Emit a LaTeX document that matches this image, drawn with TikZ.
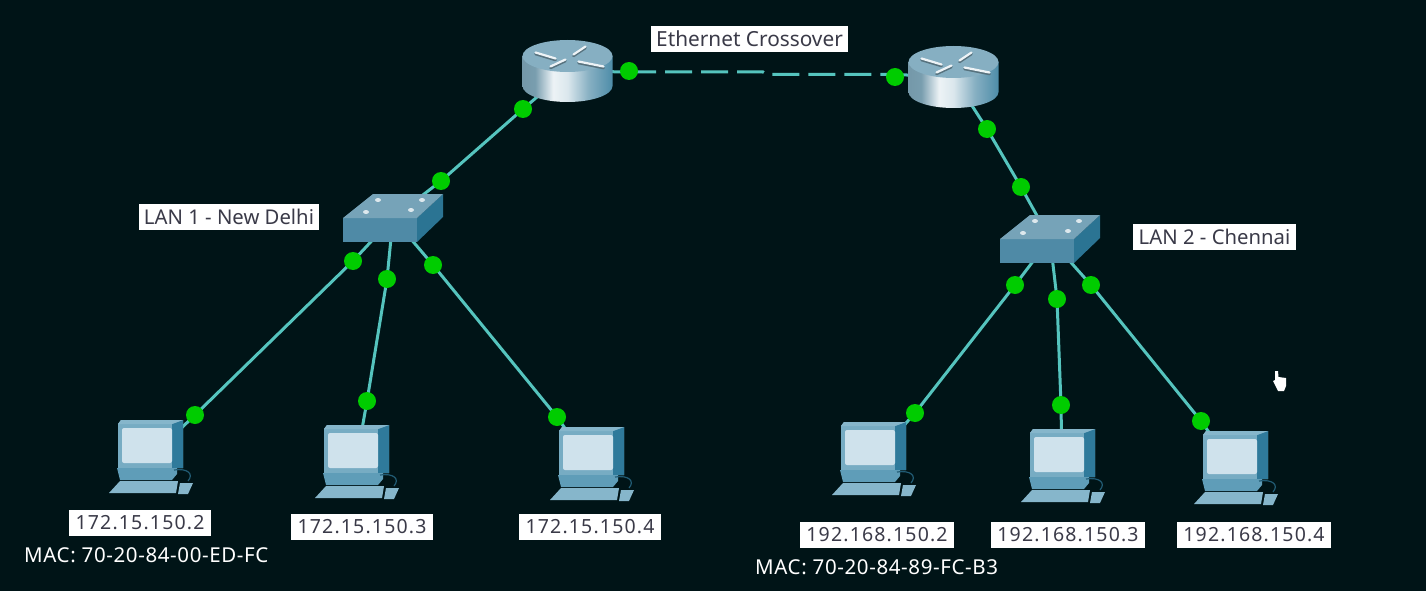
\documentclass[tikz,border=0pt]{standalone}
\usepackage{fontspec}
\setmainfont{Noto Sans}
\newfontfamily\ipfont[LetterSpace=6]{Noto Sans}
\newfontfamily\macfont[LetterSpace=3]{Noto Sans}
\definecolor{bgcol}{HTML}{001417}
\definecolor{linkcol}{HTML}{55C4BE}
\definecolor{dotcol}{HTML}{00CC00}
\definecolor{labtxt}{HTML}{3A3A48}
\definecolor{rtop}{HTML}{86AFC2}
\definecolor{pcdark}{HTML}{2F7A9B}
\definecolor{pcmid}{HTML}{5F9DB8}
\definecolor{pclight}{HTML}{86B6CB}
\definecolor{pcscreen}{HTML}{CFE2EC}
\definecolor{swtop}{HTML}{76A3B8}
\definecolor{swfront}{HTML}{4F8AA6}
\definecolor{swside}{HTML}{2B7493}
\pgfdeclarelayer{links}
\pgfdeclarelayer{art}
\pgfsetlayers{links,art,main}
\pgfdeclarehorizontalshading{routerside}{100bp}{
  color(0bp)=(rtop!70!black); color(8bp)=(rtop!80!black); color(32bp)=(rtop!90!black);
  color(42bp)=(white!85!rtop); color(50bp)=(white!70!rtop); color(62bp)=(rtop);
  color(82bp)=(pcdark); color(100bp)=(pcdark!70!black)}
\tikzset{
  link/.style={draw=linkcol,line width=3pt},
  crosslink/.style={link,dash pattern=on 27pt off 9pt},
  dot/.style={circle,fill=dotcol,minimum size=18pt,inner sep=0pt},
  device/.style={inner sep=0pt,outer sep=0pt},
  tag/.style={fill=white,draw=none,text=labtxt,inner sep=0pt,minimum height=26pt,font=\fontsize{20.8}{24}\selectfont},
  lantag/.style={tag,font=\fontsize{20.3}{24}\selectfont},
  iptag/.style={tag,font=\ipfont\fontsize{19.5}{24}\selectfont},
  mac/.style={text=white,inner sep=0pt,font=\macfont\fontsize{20.5}{23}\selectfont},
  pics/routerpic/.style={code={
    \path[shading=routerside] (-45,-15) -- (-45,15) arc[start angle=180,end angle=360,x radius=45pt,y radius=16pt] -- (45,-15) -- cycle;
    \fill[rtop] (0,-15) ellipse[x radius=45pt,y radius=16pt];
    \draw[rtop!65!black,line width=2.6pt,line cap=round]
      (-32,-17) -- (-12,-11) (-17,-3) -- (-2,-10)
      (6,-15) -- (18,-23) (11,-8) -- (36,-3);
    \draw[white!85!rtop,line width=2.2pt,line cap=round]
      (-32,-18.5) -- (-12,-12.5) (-17,-4.5) -- (-2,-11.5)
      (6,-16.5) -- (18,-24.5) (11,-9.5) -- (36,-4.5);
  }},
  pics/switchpic/.style={code={
    \fill[swfront] (-50,0) rectangle (24,24);
    \fill[swside] (24,0) -- (50,-24) -- (50,-1) -- (24,24) -- cycle;
    \fill[swtop] (-50,0) -- (-20,-24) -- (50,-24) -- (24,0) -- cycle;
    \fill[white!75!swtop] (-27,-6) circle[x radius=3pt,y radius=2pt] (-15,-18) circle[x radius=3pt,y radius=2pt]
      (18,-8) circle[x radius=3pt,y radius=2pt] (29,-18) circle[x radius=3pt,y radius=2pt];
  }},
  pics/pcpic/.style={code={
    \fill[pcmid!85!white] (-32,-34) -- (-29,-38) -- (33,-38) -- (33,10) -- (-32,10) -- cycle;
    \fill[pcdark] (22,-34) -- (33,-38) -- (33,10) -- (22,10) -- cycle;
    \fill[pclight] (-32,-34) -- (-29,-38) -- (33,-38) -- (22,-34) -- cycle;
    \fill[pcscreen,rounded corners=2pt] (-28,-30) rectangle (22,5);
    \fill[pcmid] (-33,10) -- (27,10) -- (27,16) -- (22,22) -- (-30,22) -- cycle;
    \fill[pclight] (-30,23) -- (28,23) -- (26,35) -- (-41,35) -- cycle;
    \fill[pclight] (30,25) -- (43,25) -- (38,36) -- (28,36) -- cycle;
    \draw[pcdark!70!bgcol,line width=1.2pt] (24,12) .. controls (38,10) and (44,16) .. (38,23);
  }}
}
\begin{document}
\begin{tikzpicture}[x=1pt,y=-1pt]
\useasboundingbox (0,0) rectangle (1426,591);
\begin{pgfonlayer}{links}
\fill[bgcol] (0,0) rectangle (1426,591);
\end{pgfonlayer}

% device anchors
\node[device] (r1) at (567.5,71) {};
\node[device] (r2) at (953.5,77) {};
\node[device] (s1) at (393,218) {};
\node[device] (s2) at (1050,239) {};
\node[device] (p1) at (150,458) {};
\node[device] (p2) at (356,463) {};
\node[device] (p3) at (591,465) {};
\node[device] (p4) at (873,460) {};
\node[device] (p5) at (1062,467) {};
\node[device] (p6) at (1235,469) {};

% link status dots
\node[dot] (d1) at (629,71) {};
\node[dot] (d2) at (895,77) {};
\node[dot] (d3) at (523,109) {};
\node[dot] (d4) at (441,181) {};
\node[dot] (d5) at (987,129) {};
\node[dot] (d6) at (1021,187) {};
\node[dot] (a1) at (353,261) {};
\node[dot] (a2) at (387,279) {};
\node[dot] (a3) at (433,265) {};
\node[dot] (b1) at (195,415) {};
\node[dot] (b2) at (367,401) {};
\node[dot] (b3) at (557,417) {};
\node[dot] (c1) at (1015,285) {};
\node[dot] (c2) at (1057,299) {};
\node[dot] (c3) at (1091,285) {};
\node[dot] (e1) at (915,413) {};
\node[dot] (e2) at (1061,405) {};
\node[dot] (e3) at (1201,421) {};
\coordinate (j0) at (629,72);
\coordinate (j1) at (763,72);
\coordinate (j2) at (767,74.5);
\coordinate (j3) at (895,74.5);

% connectors
\begin{pgfonlayer}{links}
\path[link] (r1.center) -- (j0);
\path[link] (r2.center) -- (j3);
\path[crosslink] (j0) -- (j1) -- (j2) -- (j3);
\path[link] (r1.center) -- (d3.center) -- (d4.center) -- (s1.center);
\path[link] (r2.center) -- (d5.center) -- (d6.center) -- (s2.center);
\path[link] (s1.center) -- (a1.center) -- (b1.center) -- (p1.center);
\path[link] (s1.center) -- (a2.center) -- (b2.center) -- (p2.center);
\path[link] (s1.center) -- (a3.center) -- (b3.center) -- (p3.center);
\path[link] (s2.center) -- (c1.center) -- (e1.center) -- (p4.center);
\path[link] (s2.center) -- (c2.center) -- (e2.center) -- (p5.center);
\path[link] (s2.center) -- (c3.center) -- (e3.center) -- (p6.center);
\end{pgfonlayer}

% device artwork
\begin{pgfonlayer}{art}
\pic at (r1) {routerpic};
\pic at (r2) {routerpic};
\pic at (s1) {switchpic};
\pic at (s2) {switchpic};
\pic at (p1) {pcpic};
\pic at (p2) {pcpic};
\pic at (p3) {pcpic};
\pic at (p4) {pcpic};
\pic at (p5) {pcpic};
\pic at (p6) {pcpic};
\end{pgfonlayer}

% labels
\node[tag,minimum width=197pt] (lcross) at (749.5,39) {Ethernet Crossover};
\node[lantag,minimum width=180pt] (ldelhi) at (229,217) {LAN 1 - New Delhi};
\node[lantag,minimum width=163pt] (lchen) at (1214.5,237) {LAN 2 - Chennai};
\node[iptag,minimum width=142pt] (i1) at (140,523) {172.15.150.2};
\node[iptag,minimum width=142pt] (i2) at (362,527) {172.15.150.3};
\node[iptag,minimum width=142pt] (i3) at (590,527) {172.15.150.4};
\node[iptag,minimum width=154pt] (i4) at (877,535) {192.168.150.2};
\node[iptag,minimum width=154pt] (i5) at (1068,535) {192.168.150.3};
\node[iptag,minimum width=154pt] (i6) at (1254,535) {192.168.150.4};
\node[mac,anchor=west] (m1) at (24,555) {MAC: 70-20-84-00-ED-FC};
\node[mac,anchor=west] (m2) at (755,567) {MAC: 70-20-84-89-FC-B3};

% mouse pointer
\fill[white] (1275,371) -- (1278,371) -- (1278.5,377) -- (1286,378) -- (1286,386) -- (1284,391) -- (1278,391) -- (1273,381) -- (1275,380) -- cycle;
\end{tikzpicture}
\end{document}
